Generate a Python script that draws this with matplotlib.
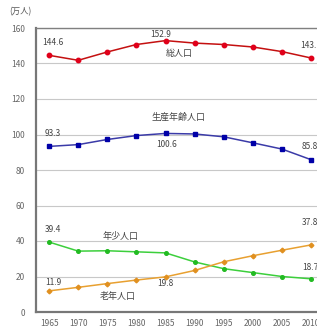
import matplotlib
matplotlib.use("Agg")
import matplotlib.pyplot as plt

plt.rcParams['font.family'] = ['Noto Sans CJK JP', 'DejaVu Sans']

years = [1965, 1970, 1975, 1980, 1985, 1990, 1995, 2000, 2005, 2010]
total = [144.6, 141.8, 146.5, 150.7, 152.9, 151.5, 150.7, 149.3, 146.7, 143.1]
working = [93.3, 94.3, 97.2, 99.4, 100.6, 100.3, 98.7, 95.3, 91.8, 85.8]
young = [39.4, 34.3, 34.5, 33.9, 33.3, 28.2, 24.4, 22.2, 20.0, 18.7]
elderly = [11.9, 13.9, 16.0, 18.0, 19.8, 23.4, 28.3, 31.7, 34.8, 37.8]
yticks = [0, 20, 40, 60, 80, 100, 120, 140, 160]

W, H = 317, 328
fig = plt.figure(figsize=(W / 100, H / 100), dpi=100)
left = 36 / W
bottom = (H - 312) / H
top = (H - 28) / H
ax = fig.add_axes([left, bottom, 288.2 / W, top - bottom])

ax.plot(years, total, color='#c41010', lw=1.1, marker='o', ms=3.2,
        mfc='#e0001a', mec='#e0001a', zorder=3)
ax.plot(years, working, color='#3b3ba8', lw=1.1, marker='s', ms=3.2,
        mfc='#0000a8', mec='#0000a8', zorder=3)
ax.plot(years, young, color='#3ccf3c', lw=1.1, marker='o', ms=2.6,
        mfc='#22bb22', mec='#22bb22', zorder=3)
ax.plot(years, elderly, color='#e8a030', lw=1.1, marker='D', ms=2.4,
        mfc='#e09020', mec='#e09020', zorder=3)

ax.set_xlim(1962.75, 2012.25)
ax.set_ylim(0, 160)
ax.set_yticks(yticks)
ax.set_xticks(years)
ax.yaxis.grid(True, color='#c8c8c8', lw=0.8)
ax.set_axisbelow(True)
ax.tick_params(axis='both', length=0, labelsize=6, colors='#666666')
ax.tick_params(axis='y', pad=8)
ax.tick_params(axis='x', pad=5)
for s in ['left', 'bottom']:
    ax.spines[s].set_color('#777777')
    ax.spines[s].set_linewidth(1.6)
ax.spines['top'].set_color('#808080')
ax.spines['top'].set_linewidth(1.0)
ax.spines['right'].set_color('#808080')

tc = '#444444'
fs = 6
ax.text(1965.7, 152.1, f"{total[0]}", ha='center', va='center', fontsize=fs, color=tc)
ax.text(1984.2, 156.6, f"{total[4]}", ha='center', va='center', fontsize=fs, color=tc)
ax.text(2008.1, 150.4, f"{total[9]}", ha='left', va='center', fontsize=fs, color=tc)
ax.text(1987.3, 145.9, "総人口", ha='center', va='center', fontsize=6.5, color=tc)

ax.text(1965.7, 100.3, f"{working[0]}", ha='center', va='center', fontsize=fs, color=tc)
ax.text(1985.1, 94.1, f"{working[4]}", ha='center', va='center', fontsize=fs, color=tc)
ax.text(2008.4, 93.0, f"{working[9]}", ha='left', va='center', fontsize=fs, color=tc)
ax.text(1987.3, 109.9, "生産年齢人口", ha='center', va='center', fontsize=6.5, color=tc)

ax.text(1965.7, 46.2, f"{young[0]}", ha='center', va='center', fontsize=fs, color=tc)
ax.text(2008.4, 24.8, f"{young[9]}", ha='left', va='center', fontsize=fs, color=tc)
ax.text(1977.35, 42.8, "年少人口", ha='center', va='center', fontsize=6.5, color=tc)

ax.text(1965.8, 16.9, f"{elderly[0]}", ha='center', va='center', fontsize=fs, color=tc)
ax.text(1984.9, 16.3, f"{elderly[4]}", ha='center', va='center', fontsize=fs, color=tc)
ax.text(2008.4, 50.7, f"{elderly[9]}", ha='left', va='center', fontsize=fs, color=tc)
ax.text(1976.8, 8.5, "老年人口", ha='center', va='center', fontsize=6.5, color=tc)

fig.text(20 / W, 1 - 12 / H, "(万人)", ha='center', va='center', fontsize=6, color='#555555')

fig.savefig("out.png", dpi=100)
